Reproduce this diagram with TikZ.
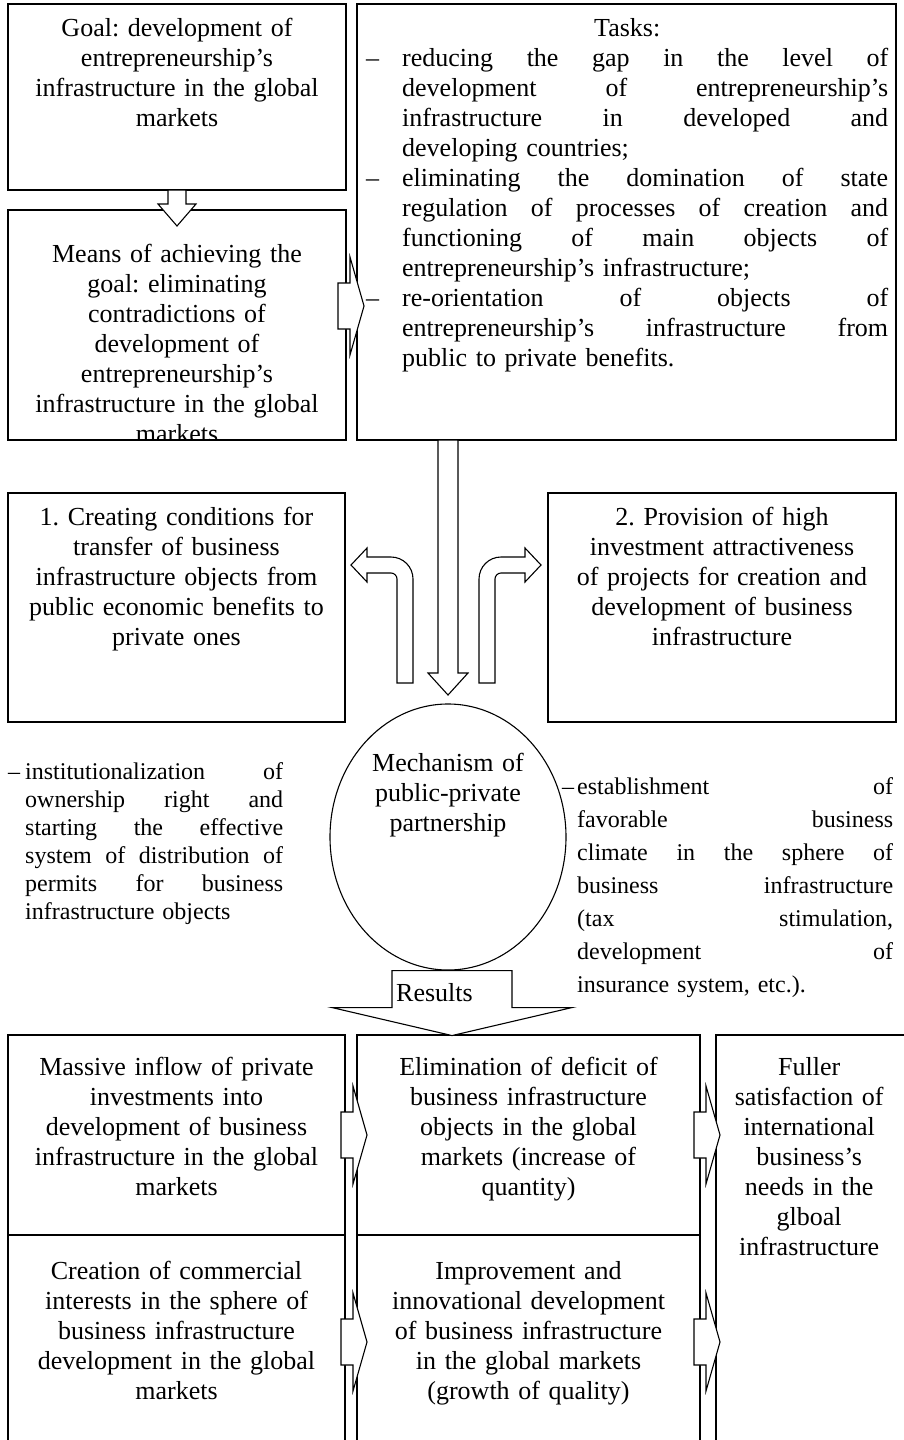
\documentclass[tikz,border=0pt]{standalone}
\usepackage{fontspec}
\setmainfont{Liberation Serif}
\usetikzlibrary{positioning,calc,shapes.geometric}

% lines of a justified list with a hanging dash
\newlength{\hangw}
\newcommand{\firstline}[1]{\makebox[\hangw][l]{–}\makebox[\dimexpr\linewidth-\hangw\relax][s]{\spaceskip=0pt\xspaceskip=0pt\relax #1}}
\newcommand{\nextline}[1]{\hspace*{\hangw}\makebox[\dimexpr\linewidth-\hangw\relax][s]{\spaceskip=0pt\xspaceskip=0pt\relax #1}}
\newcommand{\lastline}[1]{\hspace*{\hangw}#1}

\begin{document}
\frenchspacing
\begin{tikzpicture}[x=1pt, y=-1pt,
        box/.style={draw=black, line width=1.1pt, inner sep=0pt, outer sep=0pt, anchor=north west},
        boxtext/.style={inner sep=0pt, align=center, font=\fontsize{26}{30}\selectfont\frenchspacing},
        sidetext/.style={inner sep=0pt, align=left, anchor=north west, font=\fontsize{24}{28}\selectfont\frenchspacing},
        blockarrow/.style={draw=black, line width=1.1pt, fill=white, line join=miter},
        rightblock/.pic={
            \draw[blockarrow] (0,-23) -- (12,-23) -- (12,-49) -- (26,0) -- (12,49) -- (12,23) -- (0,23) -- cycle;
        },
    ]

    \useasboundingbox (0,0) rectangle (903,1440);

    % upper part
    \node [box, minimum width=338, minimum height=186] (goal)  at (8,4)   {};
    \node [box, minimum width=539, minimum height=436] (tasks) at (357,4) {};
    \node [box, minimum width=338, minimum height=230] (means) at (8,210) {};

    \node [boxtext, text width=320, below=14pt of goal.north] (goaltext)
        {Goal: development of\\ entrepreneurship’s\\ infrastructure in the global\\ markets};

    \node [boxtext, align=left, text width=522, below right=14pt and 9pt of tasks.north west] (taskstext) {%
        \setlength{\hangw}{36pt}%
        \makebox[\linewidth][c]{Tasks:}\\
        \firstline{reducing the gap in the level of}\\
        \nextline{development of entrepreneurship’s}\\
        \nextline{infrastructure in developed and}\\
        \lastline{developing countries;}\\
        \firstline{eliminating the domination of state}\\
        \nextline{regulation of processes of creation and}\\
        \nextline{functioning of main objects of}\\
        \lastline{entrepreneurship’s infrastructure;}\\
        \firstline{re-orientation of objects of}\\
        \nextline{entrepreneurship’s infrastructure from}\\
        \lastline{public to private benefits.}};

    \begin{scope}
        \clip (means.north west) rectangle (means.south east);
        \node [boxtext, text width=320, below=34pt of means.north] (meanstext)
            {Means of achieving the\\ goal: eliminating\\ contradictions of\\ development of\\ entrepreneurship’s\\ infrastructure in the global\\ markets};
    \end{scope}

    \draw[blockarrow] ($(goal.south)+(-9,0)$) -- ++(0,14) -- ++(-10,0) -- ++(19,22) -- ++(19,-22) -- ++(-10,0) -- ++(0,-14) -- cycle;
    \pic at (338,306) {rightblock};

    % directions
    \node [box, minimum width=337, minimum height=229] (create)  at (8,493)   {};
    \node [box, minimum width=348, minimum height=229] (provide) at (548,493) {};

    \node [boxtext, text width=320, below=14pt of create.north] (createtext)
        {1. Creating conditions for\\ transfer of business\\ infrastructure objects from\\ public economic benefits to\\ private ones};
    \node [boxtext, text width=330, below=14pt of provide.north] (providetext)
        {2. Provision of high\\ investment attractiveness\\ of projects for creation and\\ development of business\\ infrastructure};

    \node [draw, ellipse, line width=1.1pt, inner sep=0pt, minimum width=236, minimum height=266] (mech) at (448,837) {};
    \node [boxtext, text width=200] (mechtext) at ($(mech.center)+(0,-42)$)
        {Mechanism of\\ public-private\\ partnership};

    \node [sidetext, text width=275] (lefttext) at (8,762) {%
        \setlength{\hangw}{17pt}%
        \firstline{institutionalization of}\\
        \nextline{ownership right and}\\
        \nextline{starting the effective}\\
        \nextline{system of distribution of}\\
        \nextline{permits for business}\\
        \lastline{infrastructure objects}};

    \node [sidetext, text width=331, font=\fontsize{24}{33}\selectfont\frenchspacing] (righttext) at (562,777) {%
        \setlength{\hangw}{15pt}%
        \firstline{establishment of}\\
        \nextline{favorable business}\\
        \nextline{climate in the sphere of}\\
        \nextline{business infrastructure}\\
        \nextline{(tax stimulation,}\\
        \nextline{development of}\\
        \lastline{insurance system, etc.).}};

    \coordinate (split) at (mech.north |- tasks.south);
    \draw[blockarrow] ($(split)+(-10,0)$) -- ++(0,233) -- ++(-10,0) -- ++(20,22) -- ++(20,-22) -- ++(-10,0) -- ++(0,-233) -- cycle;

    \draw[blockarrow] (397,683) -- (397,579) arc[start angle=0, end angle=-90, radius=6]
        -- (367,573) -- (367,582) -- (351,565) -- (367,548) -- (367,557) -- (391,557)
        arc[start angle=-90, end angle=0, radius=22] -- (413,683) -- cycle;
    \draw[blockarrow] (495,683) -- (495,579) arc[start angle=180, end angle=270, radius=6]
        -- (525,573) -- (525,582) -- (541,565) -- (525,548) -- (525,557) -- (501,557)
        arc[start angle=270, end angle=180, radius=22] -- (479,683) -- cycle;

    % results
    \node [box, minimum width=337, minimum height=200] (inflow)     at (8,1035)   {};
    \node [box, minimum width=343, minimum height=200] (elim)       at (357,1035) {};
    \node [box, minimum width=210, minimum height=420] (fuller)     at (716,1035) {};
    \node [box, minimum width=337, minimum height=220] (commercial) at (8,1235)   {};
    \node [box, minimum width=343, minimum height=220] (improve)    at (357,1235) {};

    \node [boxtext, text width=325, below=22pt of inflow.north] (inflowtext)
        {Massive inflow of private\\ investments into\\ development of business\\ infrastructure in the global\\ markets};
    \node [boxtext, text width=330, below=22pt of elim.north] (elimtext)
        {Elimination of deficit of\\ business infrastructure\\ objects in the global\\ markets (increase of\\ quantity)};
    \node [boxtext, text width=180, below right=22pt and 3pt of fuller.north west] (fullertext)
        {Fuller\\ satisfaction of\\ international\\ business’s\\ needs in the\\ glboal\\ infrastructure};
    \node [boxtext, text width=325, below=26pt of commercial.north] (commercialtext)
        {Creation of commercial\\ interests in the sphere of\\ business infrastructure\\ development in the global\\ markets};
    \node [boxtext, text width=330, below=26pt of improve.north] (improvetext)
        {Improvement and\\ innovational development\\ of business infrastructure\\ in the global markets\\ (growth of quality)};

    \coordinate (res) at (mech.south);
    \draw[blockarrow] ($(res)+(-56,0)$) -- ++(120,0) -- ++(0,37) -- ++(60,0) -- ++(-120,28) -- ++(-120,-28) -- ++(60,0) -- cycle;
    \node [boxtext, anchor=base west] (restext) at ($(res)+(-52,31)$) {Results};

    \pic at (341,1135) {rightblock};
    \pic at (694,1135) {rightblock};
    \pic at (341,1342) {rightblock};
    \pic at (694,1342) {rightblock};

\end{tikzpicture}
\end{document}
